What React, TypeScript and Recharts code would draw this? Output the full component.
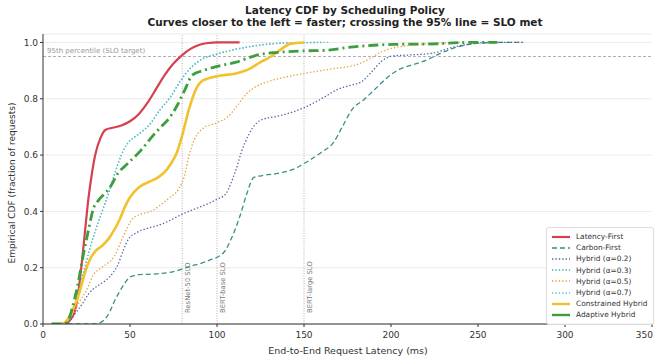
import React from 'react';
import { LineChart, Line, XAxis, YAxis, CartesianGrid, ReferenceLine } from 'recharts';

type Pt = [number, number];

// Empirical CDF samples per policy: [latency ms, fraction of requests]
const latencyFirst: Pt[] = [
  [5, 0], [12, 0], [15, 0.01], [18, 0.04], [20, 0.1], [22, 0.2], [24, 0.32], [26, 0.44],
  [28, 0.53], [30, 0.6], [33, 0.66], [36, 0.69], [40, 0.697], [45, 0.705], [50, 0.72],
  [55, 0.745], [60, 0.785], [65, 0.835], [70, 0.885], [75, 0.925], [80, 0.955], [85, 0.978],
  [90, 0.992], [95, 0.998], [100, 1.0], [113, 1.0],
];

const carbonFirst: Pt[] = [
  [5, 0], [30, 0], [33, 0.005], [36, 0.02], [38.5, 0.045], [41, 0.08], [44, 0.115], [47, 0.145],
  [50, 0.167], [55, 0.175], [65, 0.178], [75, 0.186], [85, 0.205], [95, 0.225], [104, 0.255],
  [108, 0.3], [113, 0.38], [117, 0.46], [121, 0.52], [127, 0.528], [135, 0.535], [144, 0.55],
  [150, 0.57], [160, 0.61], [167, 0.645], [172, 0.7], [178, 0.765], [184, 0.795], [191, 0.835],
  [198, 0.876], [205, 0.905], [212, 0.92], [220, 0.936], [228, 0.96], [236, 0.98], [244, 0.992],
  [252, 0.998], [265, 1.0], [276, 1.0],
];

const hybrid02: Pt[] = [
  [5, 0], [12, 0], [15, 0.01], [17, 0.025], [20, 0.05], [23, 0.075], [26, 0.105], [29, 0.125],
  [32, 0.138], [36, 0.155], [40, 0.18], [43, 0.21], [46, 0.26], [49, 0.3], [54, 0.325],
  [60, 0.34], [65, 0.348], [72, 0.365], [80, 0.39], [90, 0.415], [100, 0.443], [105, 0.462],
  [108, 0.5], [111, 0.55], [114, 0.61], [118, 0.67], [123, 0.715], [128, 0.73], [135, 0.738],
  [142, 0.75], [150, 0.768], [160, 0.8], [170, 0.835], [178, 0.85], [183, 0.86], [188, 0.89],
  [195, 0.935], [201, 0.952], [212, 0.956], [224, 0.962], [235, 0.982], [247, 0.996],
  [258, 1.0], [276, 1.0],
];

const hybrid03: Pt[] = [
  [5, 0], [12, 0], [15, 0.02], [18, 0.06], [21, 0.13], [24, 0.2], [27, 0.27], [30, 0.33],
  [34, 0.4], [38, 0.47], [41, 0.53], [45, 0.6], [49, 0.645], [53, 0.665], [57, 0.683],
  [62, 0.713], [67, 0.758], [73, 0.803], [79, 0.862], [84, 0.903], [90, 0.935], [100, 0.958],
  [110, 0.974], [120, 0.986], [130, 0.994], [145, 0.999], [160, 1.0],
];

const hybrid05: Pt[] = [
  [5, 0], [12, 0], [15, 0.015], [18, 0.045], [21, 0.08], [25, 0.12], [29, 0.175], [33, 0.198],
  [37, 0.215], [41, 0.24], [46, 0.31], [51, 0.37], [56, 0.39], [62, 0.4], [67, 0.42],
  [72, 0.445], [78, 0.48], [81, 0.52], [84, 0.6], [87, 0.655], [92, 0.695], [100, 0.715],
  [106, 0.735], [111, 0.77], [117, 0.818], [123, 0.845], [130, 0.862], [140, 0.878],
  [150, 0.89], [165, 0.905], [182, 0.925], [188, 0.943], [194, 0.965], [201, 0.98],
  [212, 0.99], [225, 0.997], [240, 1.0],
];

const hybrid07: Pt[] = [
  [5, 0], [12, 0], [15, 0.02], [18, 0.06], [21, 0.13], [24, 0.2], [27, 0.27], [30, 0.33],
  [34, 0.4], [38, 0.47], [41, 0.53], [45, 0.6], [49, 0.645], [53, 0.667], [57, 0.685],
  [62, 0.715], [67, 0.76], [73, 0.805], [79, 0.865], [84, 0.905], [90, 0.936], [100, 0.96],
  [110, 0.975], [120, 0.987], [130, 0.995], [145, 0.999], [165, 1.0],
];

const constrainedHybrid: Pt[] = [
  [5, 0], [10, 0], [14, 0.015], [17, 0.05], [19.5, 0.085], [22, 0.135], [24, 0.18], [27, 0.23],
  [30, 0.258], [34, 0.278], [38, 0.305], [41, 0.335], [44, 0.37], [47, 0.415], [50, 0.45],
  [55, 0.485], [61, 0.505], [66, 0.52], [70, 0.54], [73, 0.565], [77, 0.61], [80, 0.67],
  [84, 0.765], [88, 0.835], [92, 0.865], [100, 0.88], [111, 0.89], [119, 0.907], [125, 0.93],
  [131, 0.95], [136, 0.972], [142, 0.995], [150, 1.0],
];

const adaptiveHybrid: Pt[] = [
  [5, 0], [12, 0], [15, 0.02], [17, 0.06], [20, 0.14], [23, 0.24], [26, 0.33], [29, 0.41],
  [32, 0.44], [35, 0.46], [39, 0.49], [43, 0.535], [47, 0.56], [50, 0.578], [56, 0.615],
  [62, 0.66], [67, 0.695], [73, 0.735], [77, 0.775], [81, 0.825], [86, 0.885], [92, 0.9],
  [100, 0.915], [111, 0.93], [118, 0.945], [125, 0.958], [135, 0.965], [150, 0.97],
  [163, 0.972], [175, 0.982], [190, 0.99], [201, 0.993], [225, 0.995], [245, 1.0], [261, 1.0],
];

const xTicks = [0, 50, 100, 150, 200, 250, 300, 350];
const yTicks = [0, 0.2, 0.4, 0.6, 0.8, 1.0];

const sloMarkers = [
  { ms: 80, label: 'ResNet-50 SLO' },
  { ms: 100, label: 'BERT-base SLO' },
  { ms: 150, label: 'BERT-large SLO' },
];
const sloTarget = 0.95;

const toRows = (pts: Pt[]) => pts.map(([ms, cdf]) => ({ ms, cdf }));

const series = [
  { name: 'Latency-First', data: latencyFirst, color: '#d6404e', width: 2.2, dash: undefined },
  { name: 'Carbon-First', data: carbonFirst, color: '#3a8f86', width: 1.3, dash: '5 3' },
  { name: 'Hybrid (α=0.2)', data: hybrid02, color: '#5566aa', width: 1.3, dash: '1.4 2' },
  { name: 'Hybrid (α=0.3)', data: hybrid03, color: '#3fb3a5', width: 1.3, dash: '1.4 2' },
  { name: 'Hybrid (α=0.5)', data: hybrid05, color: '#e3a53c', width: 1.3, dash: '1.4 2' },
  { name: 'Hybrid (α=0.7)', data: hybrid07, color: '#5fc3d6', width: 1.3, dash: '1.4 2' },
  { name: 'Constrained Hybrid', data: constrainedHybrid, color: '#f2c12e', width: 2.6, dash: undefined },
  { name: 'Adaptive Hybrid', data: adaptiveHybrid, color: '#3c9e3c', width: 2.8, dash: '10 4 2 4' },
];

const FONT = '"DejaVu Sans", sans-serif';

// X tick that keeps the rightmost label inside the canvas
const XTick = ({ x, y, payload }: any) => {
  const last = payload.value === xTicks[xTicks.length - 1];
  return (
    <text
      x={last ? x + 6 : x}
      y={y + 9}
      textAnchor={last ? 'end' : 'middle'}
      fontSize={9}
      fill="#333"
      fontFamily={FONT}
    >
      {payload.value}
    </text>
  );
};

const SloLabel = ({ viewBox, text }: any) => {
  const x = viewBox.x + 8;
  const y = 313;
  return (
    <text transform={`translate(${x},${y}) rotate(-90)`} fontSize={6.8} fill="#777" fontFamily={FONT}>
      {text}
    </text>
  );
};

const TargetLabel = ({ viewBox }: any) => (
  <text x={viewBox.x + 4} y={viewBox.y - 4} fontSize={7} fill="#999" fontFamily={FONT}>
    95th percentile (SLO target)
  </text>
);

const LegendBox = () => (
  <div
    style={{
      position: 'absolute',
      left: 546,
      top: 227,
      border: '1px solid #dcdcdc',
      borderRadius: 3,
      background: 'rgba(255,255,255,0.9)',
      padding: '3px 6px 3px 4px',
      fontFamily: FONT,
      fontSize: 7.4,
      color: '#333',
    }}
  >
    {series.map((s) => (
      <div key={s.name} style={{ display: 'flex', alignItems: 'center', height: 11.2 }}>
        <svg width={20} height={8} style={{ marginRight: 5 }}>
          <line
            x1={1}
            y1={4}
            x2={19}
            y2={4}
            stroke={s.color}
            strokeWidth={Math.min(s.width, 2.4)}
            strokeDasharray={s.dash === '10 4 2 4' ? undefined : s.dash}
          />
        </svg>
        <span style={{ whiteSpace: 'nowrap' }}>{s.name}</span>
      </div>
    ))}
  </div>
);

export default function App() {
  return (
    <div style={{ position: 'absolute', left: 0, top: 0, width: 659, height: 360, background: '#fff', fontFamily: FONT }}>
      <LineChart width={659} height={360} margin={{ top: 34, right: 7, bottom: 16, left: 8 }}>
        <CartesianGrid vertical={false} stroke="#ebebeb" />
        <XAxis
          type="number"
          dataKey="ms"
          domain={[0, 350]}
          ticks={xTicks}
          allowDataOverflow
          height={20}
          tickSize={3}
          stroke="#333"
          tick={<XTick />}
        />
        <YAxis
          type="number"
          dataKey="cdf"
          domain={[0, 1.03]}
          ticks={yTicks}
          allowDataOverflow
          width={35}
          tickSize={3}
          stroke="#333"
          tickFormatter={(v: number) => v.toFixed(1)}
          tick={{ fontSize: 9, fill: '#333', fontFamily: FONT }}
        />
        <ReferenceLine y={sloTarget} stroke="#999" strokeWidth={0.8} strokeDasharray="3 2" label={<TargetLabel />} />
        {sloMarkers.map((m) => (
          <ReferenceLine
            key={m.label}
            x={m.ms}
            stroke="#aaa"
            strokeWidth={0.9}
            strokeDasharray="1 1.5"
            label={<SloLabel text={m.label} />}
          />
        ))}
        {series.map((s) => (
          <Line
            key={s.name}
            name={s.name}
            data={toRows(s.data)}
            dataKey="cdf"
            type="monotone"
            stroke={s.color}
            strokeWidth={s.width}
            strokeDasharray={s.dash}
            dot={false}
            activeDot={false}
            isAnimationActive={false}
          />
        ))}
      </LineChart>
      <LegendBox />
      <svg width={659} height={360} style={{ position: 'absolute', left: 0, top: 0, pointerEvents: 'none' }}>
        <text x={345} y={14} textAnchor="middle" fontSize={10.5} fontWeight="bold" fill="#222" fontFamily={FONT}>
          Latency CDF by Scheduling Policy
        </text>
        <text x={345} y={26} textAnchor="middle" fontSize={10.5} fontWeight="bold" fill="#222" fontFamily={FONT}>
          Curves closer to the left = faster; crossing the 95% line = SLO met
        </text>
        <text x={348} y={354} textAnchor="middle" fontSize={9.5} fill="#333" fontFamily={FONT}>
          End-to-End Request Latency (ms)
        </text>
        <text transform="translate(15,183) rotate(-90)" textAnchor="middle" fontSize={9} fill="#333" fontFamily={FONT}>
          Empirical CDF (fraction of requests)
        </text>
      </svg>
    </div>
  );
}
